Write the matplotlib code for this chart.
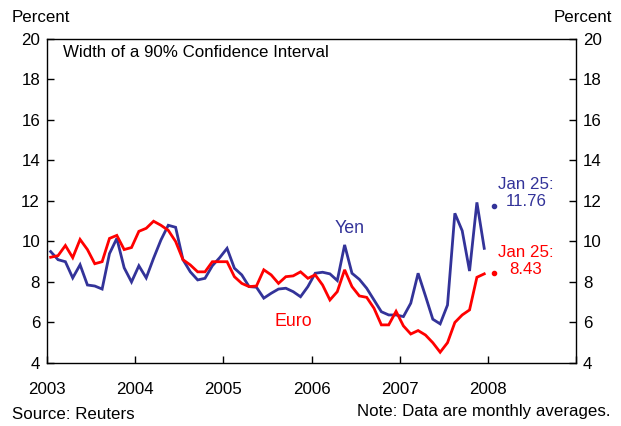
import numpy as np
import matplotlib.pyplot as plt

plt.rcParams['font.family'] = ['Liberation Sans', 'DejaVu Sans']

# monthly averages, Jan 2003 - Dec 2007
yen = [9.5, 9.1, 9.0, 8.2, 8.85, 7.85, 7.8, 7.65, 9.4, 10.15, 8.7, 8.0,
       8.8, 8.2, 9.17, 10.07, 10.8, 10.7, 9.1, 8.5, 8.1, 8.18, 8.8, 9.2,
       9.66, 8.68, 8.35, 7.77, 7.74, 7.2, 7.44, 7.65, 7.69, 7.52, 7.27, 7.77,
       8.43, 8.48, 8.4, 8.07, 9.83, 8.43, 8.13, 7.69, 7.11, 6.53, 6.37, 6.37,
       6.29, 6.95, 8.43, 7.31, 6.16, 5.93, 6.86, 11.39, 10.53, 8.54, 11.93, 9.66]
euro = [9.22, 9.3, 9.8, 9.2, 10.1, 9.6, 8.9, 9.0, 10.15, 10.3, 9.6, 9.7,
        10.5, 10.65, 11.0, 10.8, 10.55, 10.0, 9.1, 8.84, 8.5, 8.5, 9.0, 9.0,
        9.0, 8.26, 7.93, 7.77, 7.8, 8.6, 8.35, 7.93, 8.26, 8.3, 8.5, 8.18,
        8.35, 7.85, 7.11, 7.52, 8.6, 7.77, 7.31, 7.24, 6.7, 5.88, 5.88, 6.55,
        5.83, 5.43, 5.6, 5.38, 5.0, 4.53, 5.0, 6.0, 6.37, 6.62, 8.23, 8.4]
yen_jan25 = 11.76
euro_jan25 = 8.43
years = [2003, 2004, 2005, 2006, 2007, 2008, 2009]
year_labels = ['2003', '2004', '2005', '2006', '2007', '2008', '']

blue = '#333399'
red = '#ff0000'
fs = 12.2

t = 2003 + (np.arange(len(yen)) + 0.5) / 12
t_jan25 = 2008 + 24.5 / 366

fig = plt.figure(figsize=(6.21, 4.26), dpi=100)
ax = fig.add_axes([0.0757, 0.148, 0.852, 0.7605])

ax.plot(t, yen, color=blue, lw=2.0, solid_joinstyle='miter')
ax.plot(t, euro, color=red, lw=2.0, solid_joinstyle='miter')
ax.plot([t_jan25], [yen_jan25], 'o', color=blue, ms=3)
ax.plot([t_jan25], [euro_jan25], 'o', color=red, ms=3)

ax.set_xlim(2003, 2009)
ax.set_ylim(4, 20)
ax.set_xticks(years)
ax.set_xticklabels(year_labels)
ax.set_yticks(range(4, 21, 2))
ax.tick_params(direction='in', length=5, width=1, labelsize=fs,
               right=True, labelright=True, top=False, pad=5)
ax.tick_params(axis='x', pad=14)
for s in ax.spines.values():
    s.set_linewidth(1)

ax.text(0.03, 0.982, 'Width of a 90% Confidence Interval', transform=ax.transAxes,
        fontsize=fs, va='top', ha='left')
ax.text(2006.43, 10.65, 'Yen', color=blue, fontsize=12.8, ha='center', va='center')
ax.text(2005.79, 6.05, 'Euro', color=red, fontsize=12.8, ha='center', va='center')
ax.text(2008.43, 12.38, 'Jan 25:\n' + f'{yen_jan25:.2f}', color=blue, fontsize=fs,
        ha='center', va='center', linespacing=1.15)
ax.text(2008.43, 9.02, 'Jan 25:\n' + f'{euro_jan25:.2f}', color=red, fontsize=fs,
        ha='center', va='center', linespacing=1.15)

fig.text(0.019, 0.96, 'Percent', fontsize=fs, ha='left', va='center')
fig.text(0.985, 0.96, 'Percent', fontsize=fs, ha='right', va='center')
fig.text(0.019, 0.026, 'Source: Reuters', fontsize=fs, ha='left', va='center')
fig.text(0.983, 0.035, 'Note: Data are monthly averages.', fontsize=fs,
         ha='right', va='center')

fig.savefig('out.png', dpi=100)
